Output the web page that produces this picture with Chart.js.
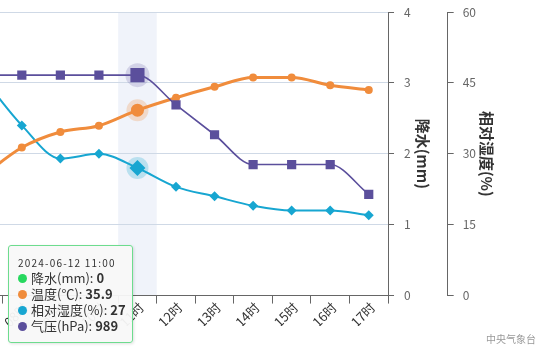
<!DOCTYPE html>
<html>
<head>
<meta charset="utf-8">
<script src="https://cdn.jsdelivr.net/npm/chart.js@4.4.1/dist/chart.umd.min.js"></script>
<style>
html, body { margin: 0; padding: 0; background: #fff; overflow: hidden; }
body { width: 547px; height: 360px; position: relative; font-family: "Noto Sans CJK SC", "Noto Sans", sans-serif; }
#wrap { position: absolute; left: -60px; top: 0; width: 607px; height: 360px; }
#tip { position: absolute; left: 8px; top: 245px; width: 125px; height: 98px; box-sizing: border-box;
       background: rgba(248,248,248,0.95); border: 1.5px solid #6ddc8e; border-radius: 3px;
       box-shadow: 1px 1px 3px rgba(0,0,0,0.12); padding: 10px 0 0 9px; color: #333; }
#tip .t { font-size: 10px; letter-spacing: 1.2px; line-height: 13px; margin-bottom: 1px; }
#tip .r { font-size: 13px; line-height: 16px; white-space: nowrap; }
#tip .d { display: inline-block; width: 9px; height: 9px; border-radius: 50%; margin-right: 4px; vertical-align: 0px; }
#credit { position: absolute; right: 11px; top: 331px; font-size: 10px; color: #999; }
</style>
</head>
<body>
<div id="wrap"><canvas id="myChart"></canvas></div>
<div id="tip"></div>
<div id="credit">中央气象台</div>
<script>
// hourly observations
const hours = ['07时', '08时', '09时', '10时', '11时', '12时', '13时', '14时', '15时', '16时', '17时'];
const precip = [0, 0, 0, 0, 0, 0, 0, 0, 0, 0, 0];              // 降水 mm
const temp = [31.7, 33.5, 34.5, 34.9, 35.9, 36.7, 37.4, 38.0, 38.0, 37.5, 37.2]; // 温度
const humid = [46, 36, 29, 30, 27, 23, 21, 19, 18, 18, 17];      // 相对湿度 %
const press = [989, 989, 989, 989, 989, 988, 987, 986, 986, 986, 985]; // 气压 hPa
const precipTicks = [0, 1, 2, 3, 4];
const humidTicks = [0, 15, 30, 45, 60];
const DATE = '2024-06-12';
const HOVER = 4; // 11时 is the hovered column

const C_PRE = '#27d85f', C_TEMP = '#f08c3c', C_HUM = '#17a6d1', C_PRES = '#5b4f9c';

// tooltip box from the data
const hh = hours[HOVER].replace('时', '');
const rows = [
    ['降水(mm)', precip[HOVER], C_PRE],
    ['温度(℃)', temp[HOVER], C_TEMP],
    ['相对湿度(%)', humid[HOVER], C_HUM],
    ['气压(hPa)', press[HOVER], C_PRES]
];
let html = '<div class="t">' + DATE + ' ' + hh + ':00</div>';
rows.forEach(r => {
    html += '<div class="r"><span class="d" style="background:' + r[2] + '"></span>' + r[0] + ': <b>' + r[1] + '</b></div>';
});
document.getElementById('tip').innerHTML = html;

const big = (small, large) => ctx => ctx.dataIndex === HOVER ? large : small;
const noPad = s => { s.paddingTop = 0; s.paddingBottom = 0; }; // let the plot reach the top

// hover band + halos
const hoverPlugin = {
    id: 'hoverBand',
    beforeDraw(chart) {
        const {ctx, chartArea, scales: {x}} = chart;
        const w = x.width / hours.length;
        const cx = x.getPixelForValue(HOVER);
        ctx.save();
        ctx.fillStyle = '#f0f3fa';
        ctx.fillRect(cx - w / 2, chartArea.top, w, chartArea.bottom - chartArea.top);
        ctx.restore();
    },
    beforeDatasetsDraw(chart) {
        const ctx = chart.ctx;
        chart.data.datasets.forEach((ds, i) => {
            if (!ds.halo) return;
            const pt = chart.getDatasetMeta(i).data[HOVER];
            ctx.save();
            ctx.beginPath();
            ctx.arc(pt.x, pt.y, ds.halo, 0, Math.PI * 2);
            ctx.fillStyle = ds.haloColor;
            ctx.fill();
            ctx.restore();
        });
    }
};

Chart.defaults.font.family = '"Noto Sans CJK SC", "Noto Sans", sans-serif';
Chart.defaults.font.size = 12;

const ctx = document.getElementById('myChart');
new Chart(ctx, {
    type: 'bar',
    data: {
        labels: hours,
        datasets: [{
            label: '降水(mm)',
            data: precip,
            yAxisID: 'yP',
            backgroundColor: C_PRE,
            order: 4
        }, {
            type: 'line',
            label: '温度(℃)',
            data: temp,
            yAxisID: 'yT',
            borderColor: C_TEMP,
            backgroundColor: C_TEMP,
            borderWidth: 3,
            pointStyle: 'circle',
            pointRadius: big(4, 6.5),
            pointBorderWidth: 0,
            cubicInterpolationMode: 'monotone',
            halo: 11,
            haloColor: 'rgba(240,140,60,0.25)',
            order: 2
        }, {
            type: 'line',
            label: '相对湿度(%)',
            data: humid,
            yAxisID: 'yH',
            borderColor: C_HUM,
            backgroundColor: C_HUM,
            borderWidth: 2,
            pointStyle: 'rectRot',
            pointRadius: big(5, 8),
            pointBorderWidth: 0,
            cubicInterpolationMode: 'monotone',
            halo: 11,
            haloColor: 'rgba(23,166,209,0.25)',
            order: 3
        }, {
            type: 'line',
            label: '气压(hPa)',
            data: press,
            yAxisID: 'yPr',
            borderColor: C_PRES,
            backgroundColor: C_PRES,
            borderWidth: 1.6,
            pointStyle: 'rect',
            pointRadius: big(6.5, 10),
            pointBorderWidth: 0,
            cubicInterpolationMode: 'monotone',
            halo: 12,
            haloColor: 'rgba(91,79,156,0.2)',
            order: 1
        }]
    },
    options: {
        responsive: true,
        maintainAspectRatio: false,
        animation: false,
        events: [],
        layout: { padding: { left: 24, top: 12, right: 51, bottom: 34 } },
        plugins: { legend: { display: false }, tooltip: { enabled: false } },
        scales: {
            x: {
                offset: true,
                grid: { offset: true, drawOnChartArea: false, tickLength: 8, tickColor: '#666' },
                border: { color: '#666' },
                ticks: { color: '#333', font: { size: 13 }, minRotation: 45, maxRotation: 45, padding: -4, labelOffset: 4, autoSkip: false }
            },
            yP: {
                position: 'right',
                weight: 0,
                min: precipTicks[0],
                max: precipTicks[precipTicks.length - 1],
                afterBuildTicks: s => { s.ticks = precipTicks.map(v => ({value: v})); },
                afterFit: noPad,
                grid: { color: '#cfd9e6', tickColor: '#666', tickLength: 6 },
                border: { color: '#666' },
                ticks: { color: '#666', padding: 10 },
                title: { display: true, text: '降水(mm)', color: '#333', font: { size: 15, weight: 'bold' }, padding: { top: 16, bottom: -7 } }
            },
            yH: {
                position: 'right',
                weight: 1,
                min: humidTicks[0],
                max: humidTicks[humidTicks.length - 1],
                afterBuildTicks: s => { s.ticks = humidTicks.map(v => ({value: v})); },
                afterFit: noPad,
                grid: { drawOnChartArea: false, tickColor: '#666', tickLength: 6 },
                border: { color: '#666' },
                ticks: { color: '#666', padding: 9 },
                title: { display: true, text: '相对湿度(%)', color: '#333', font: { size: 15, weight: 'bold' }, padding: { top: 0, bottom: -7 } }
            },
            yT: { display: false, min: 24, max: 42.2 },
            yPr: { display: false, min: 981.605, max: 991.118 }
        }
    },
    plugins: [hoverPlugin]
});
</script>
</body>
</html>
